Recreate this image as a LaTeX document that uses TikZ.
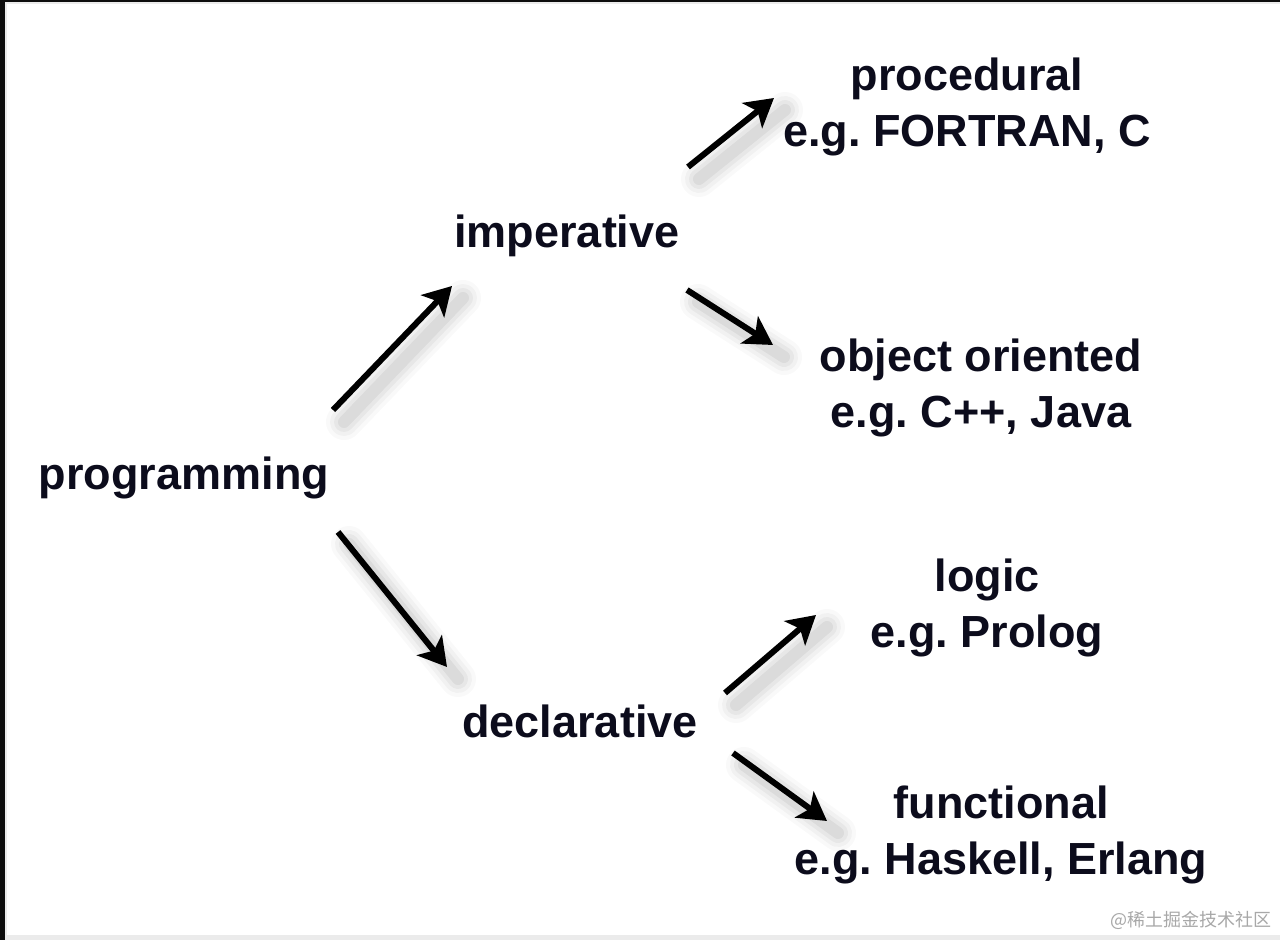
\documentclass[tikz,border=0pt]{standalone}
\usepackage{fontspec}
\setmainfont{Liberation Sans}
\newfontfamily\wmfont{Noto Sans CJK SC}
\usetikzlibrary{arrows.meta,calc}
\definecolor{inkcol}{HTML}{0C0C1C}
\definecolor{wmcol}{HTML}{A8A8A8}
\tikzset{
  lbl/.style={font=\fontsize{22.5}{27}\selectfont\bfseries, text=inkcol, inner sep=0pt, anchor=base},
  arr/.style={-{Stealth[length=14pt, width=16pt, inset=3.5pt]}, line width=3pt, black},
}
\newcommand\shadearrow[2]{%
  \foreach \w/\o in {18/0.025, 14/0.03, 10/0.04, 6/0.05}
    \draw[line width=\w pt, black, opacity=\o, line cap=round] ($(#1)+(11,12)$) -- ($(#2)+(11,12)$);
  \draw[arr] (#1) -- (#2);
}
\begin{document}
\frenchspacing
\begin{tikzpicture}[x=0.5pt, y=-0.5pt]
  \useasboundingbox (0,0) rectangle (1280,940);
  \fill[white] (0,0) rectangle (1280,940);
  % frame edges of the screenshot
  \fill[black!95] (0,0) rectangle (5,940);
  \fill[black!95] (0,0) rectangle (1280,2);
  \fill[black!8] (5,2) rectangle (7,936);
  \fill[black!8] (5,2) rectangle (1280,4);
  \fill[black!8] (5,935) rectangle (1280,940);

  \node[lbl] (prog) at (184,490) {programming};
  \node[lbl] (imp) at (567,248) {imperative};
  \node[lbl] (decl) at (580,737) {declarative};
  \node[lbl] (proc) at (967,91) {procedural};
  \node[lbl] (proc-eg) at ([yshift=-28pt]proc.base) {e.g. FORTRAN, C};
  \node[lbl] (oo) at (981,372) {object oriented};
  \node[lbl] (oo-eg) at ([yshift=-28pt]oo.base) {e.g. C++, Java};
  \node[lbl] (logic) at (987,592) {logic};
  \node[lbl] (logic-eg) at ([yshift=-28pt]logic.base) {e.g. Prolog};
  \node[lbl] (func) at (1001,818) {functional};
  \node[lbl] (func-eg) at ([yshift=-28pt]func.base) {e.g. Haskell, Erlang};

  \coordinate (prog-up) at (333,410);   \coordinate (imp-in) at (452,286);
  \coordinate (prog-dn) at (338,532);   \coordinate (decl-in) at (447,667);
  \coordinate (imp-up) at (688,167);    \coordinate (proc-in) at (774,98);
  \coordinate (imp-dn) at (687,290);    \coordinate (oo-in) at (773,345);
  \coordinate (decl-up) at (725,693);   \coordinate (logic-in) at (816,615);
  \coordinate (decl-dn) at (733,753);   \coordinate (func-in) at (827,821);

  \shadearrow{prog-up}{imp-in}
  \shadearrow{prog-dn}{decl-in}
  \shadearrow{imp-up}{proc-in}
  \shadearrow{imp-dn}{oo-in}
  \shadearrow{decl-up}{logic-in}
  \shadearrow{decl-dn}{func-in}

  \node[font=\wmfont\fontsize{9}{11}\selectfont, text=wmcol, inner sep=0pt, anchor=base east] (wm) at (1272,926) {@稀土掘金技术社区};
\end{tikzpicture}
\end{document}
